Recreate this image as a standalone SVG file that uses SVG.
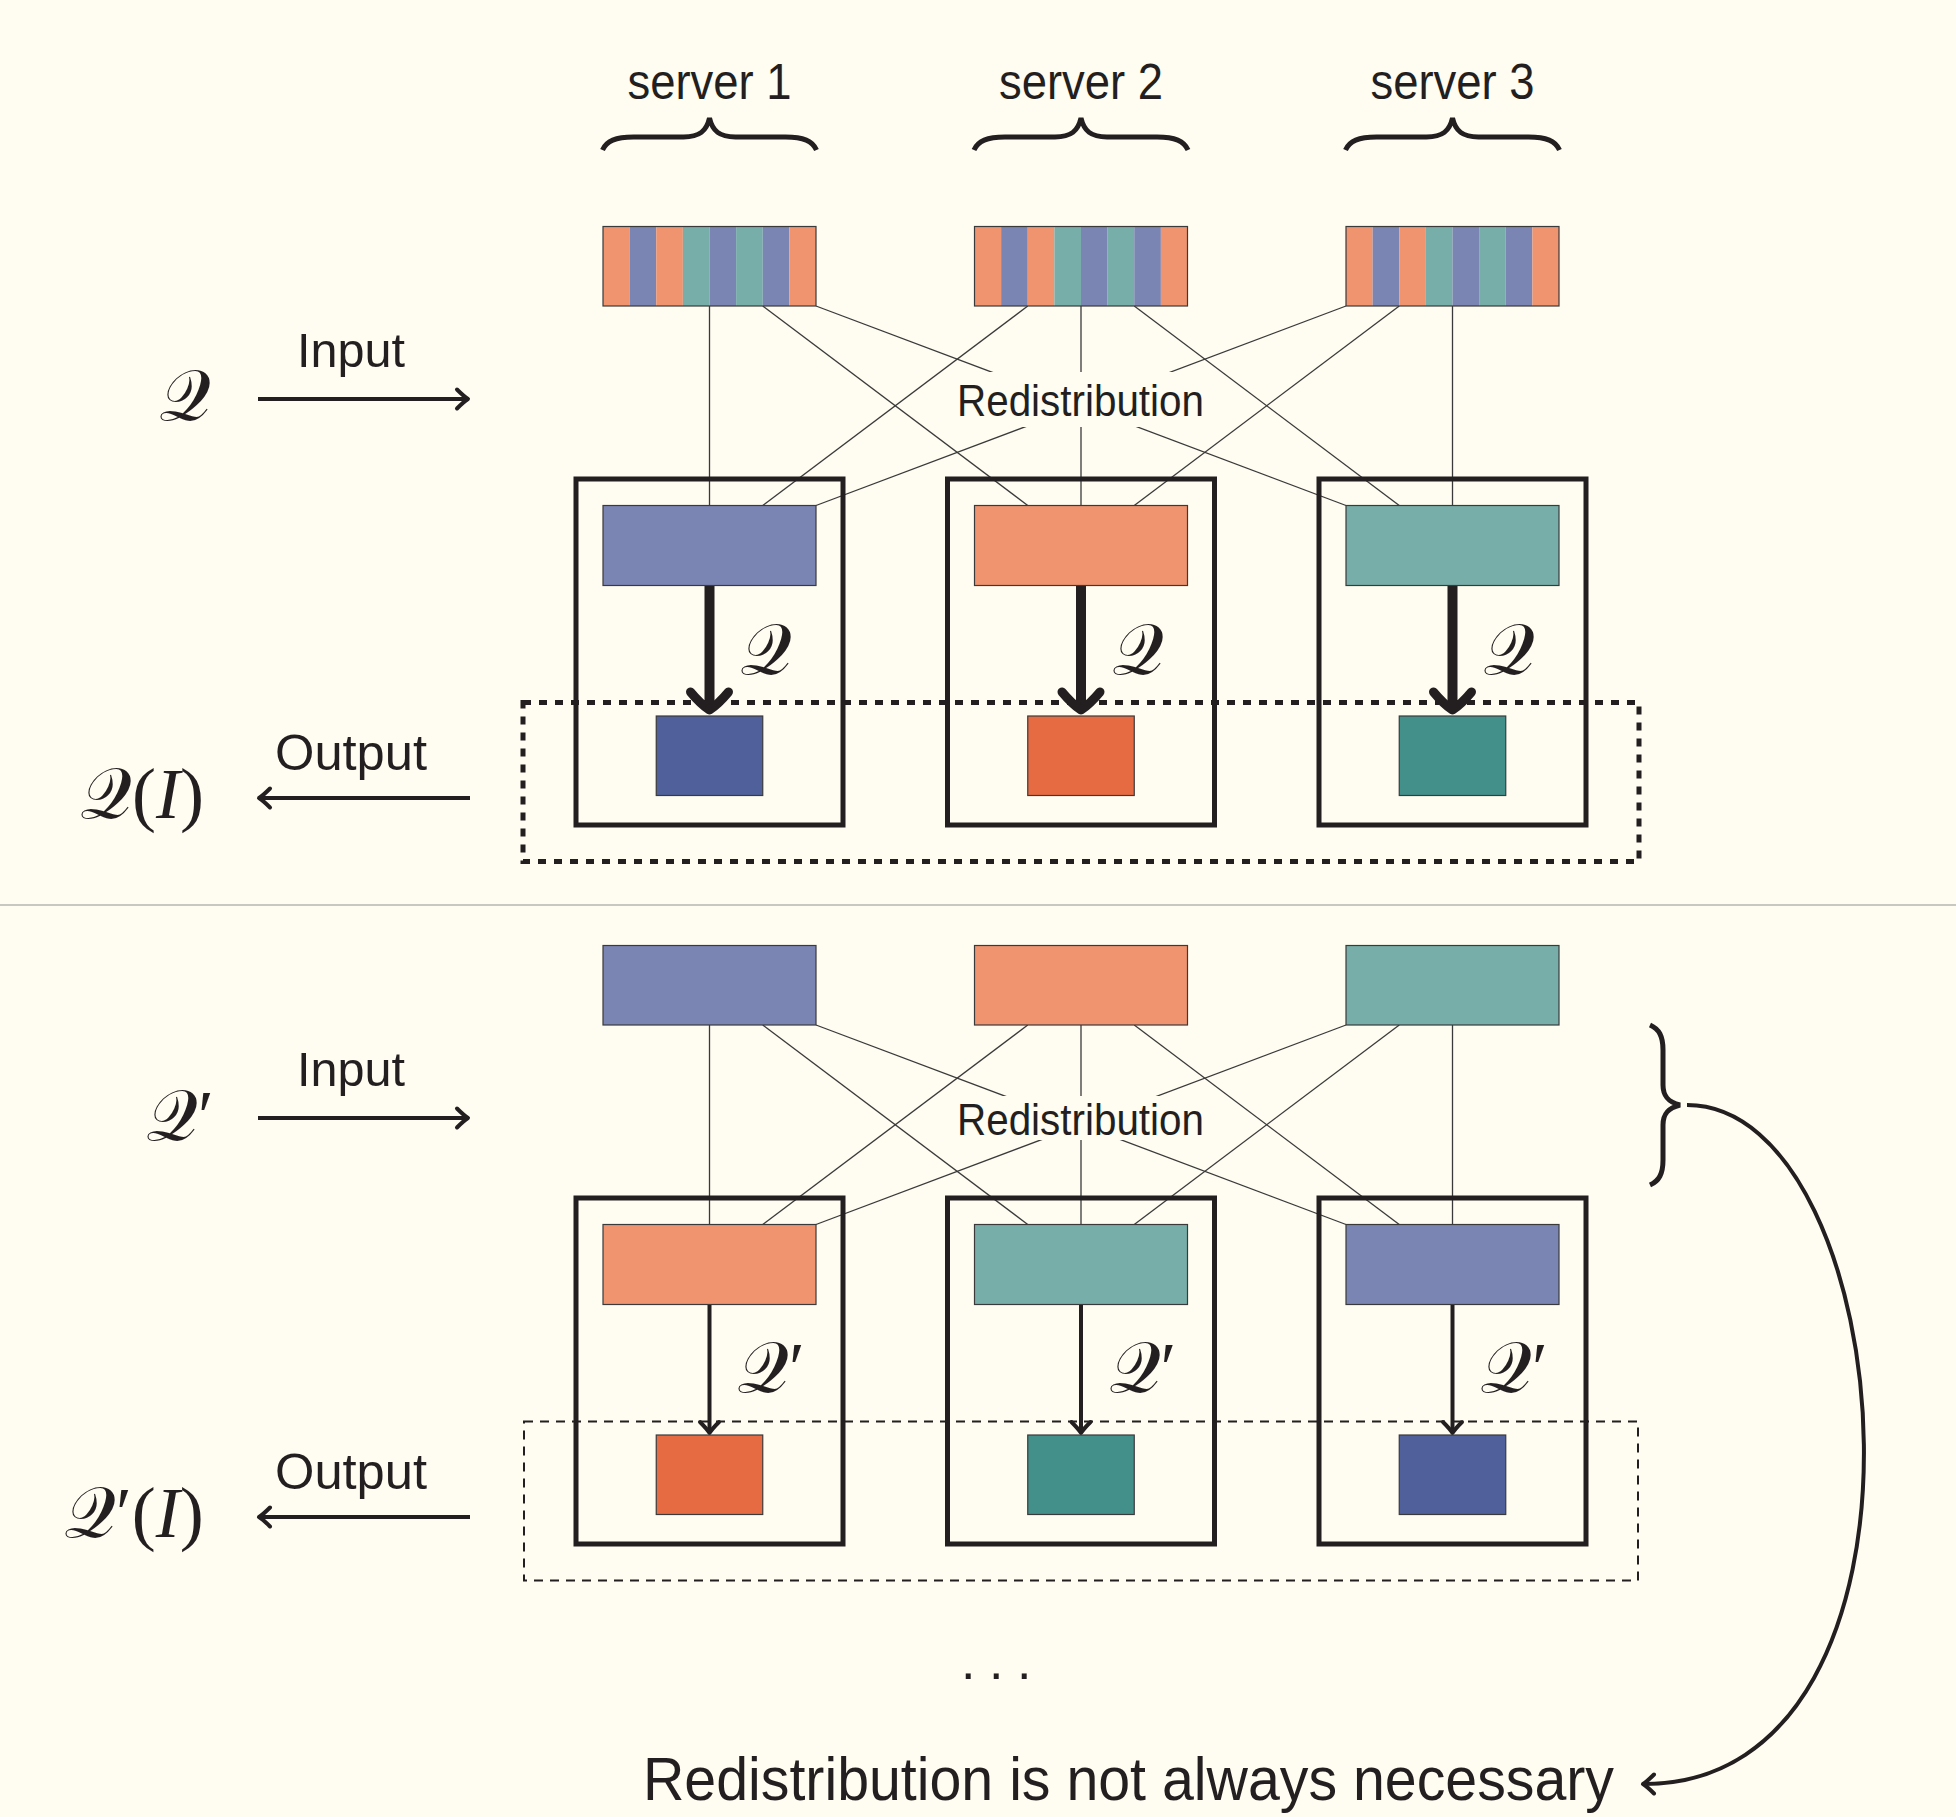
<svg xmlns="http://www.w3.org/2000/svg" width="1956" height="1817" viewBox="0 0 1956 1817">
  <style>
    .bg { fill: #FFFCF1; }
    .lbl { font-family: "Liberation Sans", Arial, sans-serif; fill: #231F20; }
    .math { font-family: "Liberation Serif", "DejaVu Serif", serif; fill: #231F20; }
    .cal { font-family: "DejaVu Serif", "DejaVu Sans", "Liberation Serif", serif; }
    .it { font-style: italic; }
    .cell { stroke: #3A3A3A; stroke-width: 1.2; }
    .lo { fill: #F09470; }
    .lb { fill: #7A85B4; }
    .lt { fill: #77AEAA; }
    .db { fill: #4F609B; }
    .do { fill: #E76B42; }
    .dt { fill: #43908B; }
    .server { fill: none; stroke: #231F20; stroke-width: 5; }
    .wire { stroke: #3A3A3A; stroke-width: 1.3; fill: none; }
    .brace { fill: none; stroke: #231F20; stroke-width: 5; stroke-linecap: butt; }
    .arrow { fill: none; stroke: #231F20; stroke-width: 4; }
    .thick { fill: none; stroke: #231F20; stroke-width: 10; }
    .gather-dotted { fill: none; stroke: #231F20; stroke-width: 5; stroke-dasharray: 8 8; }
    .gather-dashed { fill: none; stroke: #231F20; stroke-width: 2; stroke-dasharray: 9 7; }
  </style>
  <defs>
    <marker id="tip" markerUnits="userSpaceOnUse" orient="auto" overflow="visible" markerWidth="1" markerHeight="1" refX="0" refY="0">
      <path d="M-10,-9.5 Q-3,-2.5 1,0 Q-3,2.5 -10,9.5" fill="none" stroke="#231F20" stroke-width="4" stroke-linecap="round" stroke-linejoin="round"/>
    </marker>
    <marker id="tip-thick" markerUnits="userSpaceOnUse" orient="auto" overflow="visible" markerWidth="1" markerHeight="1" refX="0" refY="0">
      <path d="M-14,-19 Q-2,-9 4,0 Q-2,9 -14,19" fill="none" stroke="#231F20" stroke-width="9" stroke-linecap="round" stroke-linejoin="round"/>
    </marker>
    <!-- striped input partition of one server -->
    <g id="striped">
      <rect x="0" y="0" width="26.625" height="79.5" class="lo"/>
      <rect x="26.625" y="0" width="26.625" height="79.5" class="lb"/>
      <rect x="53.25" y="0" width="26.625" height="79.5" class="lo"/>
      <rect x="79.875" y="0" width="26.625" height="79.5" class="lt"/>
      <rect x="106.5" y="0" width="26.625" height="79.5" class="lb"/>
      <rect x="133.125" y="0" width="26.625" height="79.5" class="lt"/>
      <rect x="159.75" y="0" width="26.625" height="79.5" class="lb"/>
      <rect x="186.375" y="0" width="26.625" height="79.5" class="lo"/>
      <rect x="0" y="0" width="213" height="79.5" fill="none" class="cell"/>
    </g>
    <path id="hbrace" d="M-107,150 C-103,141 -94,137 -76,137 L-26,137 C-10,137 -3,131 0,118 C3,131 10,137 26,137 L76,137 C94,137 103,141 107,150"/>
  </defs>

  <rect class="bg" x="0" y="0" width="1956" height="1817"/>

  <!-- divider between the two rounds -->
  <line x1="0" y1="905" x2="1956" y2="905" stroke="#C8C8C0" stroke-width="1.8"/>

  <!-- ===== round 1 ===== -->
  <g id="server-labels">
    <text class="lbl" x="709.5" y="99" font-size="50" text-anchor="middle" textLength="164" lengthAdjust="spacingAndGlyphs">server 1</text>
    <text class="lbl" x="1081" y="99" font-size="50" text-anchor="middle" textLength="164" lengthAdjust="spacingAndGlyphs">server 2</text>
    <text class="lbl" x="1452.5" y="99" font-size="50" text-anchor="middle" textLength="164" lengthAdjust="spacingAndGlyphs">server 3</text>
    <use href="#hbrace" class="brace" transform="translate(709.5,0)"/>
    <use href="#hbrace" class="brace" transform="translate(1081,0)"/>
    <use href="#hbrace" class="brace" transform="translate(1452.5,0)"/>
  </g>

  <g id="connectors">
    <!-- round 1 redistribution wires -->
    <line class="wire" x1="709.5" y1="306" x2="709.5" y2="505.5"/>
    <line class="wire" x1="762.75" y1="306" x2="1027.75" y2="505.5"/>
    <line class="wire" x1="816" y1="306" x2="1346" y2="505.5"/>
    <line class="wire" x1="1027.75" y1="306" x2="762.75" y2="505.5"/>
    <line class="wire" x1="1081" y1="306" x2="1081" y2="505.5"/>
    <line class="wire" x1="1134.25" y1="306" x2="1399.25" y2="505.5"/>
    <line class="wire" x1="1346" y1="306" x2="816" y2="505.5"/>
    <line class="wire" x1="1399.25" y1="306" x2="1134.25" y2="505.5"/>
    <line class="wire" x1="1452.5" y1="306" x2="1452.5" y2="505.5"/>
    <!-- round 2 redistribution wires -->
    <line class="wire" x1="709.5" y1="1025" x2="709.5" y2="1224.5"/>
    <line class="wire" x1="762.75" y1="1025" x2="1027.75" y2="1224.5"/>
    <line class="wire" x1="816" y1="1025" x2="1346" y2="1224.5"/>
    <line class="wire" x1="1027.75" y1="1025" x2="762.75" y2="1224.5"/>
    <line class="wire" x1="1081" y1="1025" x2="1081" y2="1224.5"/>
    <line class="wire" x1="1134.25" y1="1025" x2="1399.25" y2="1224.5"/>
    <line class="wire" x1="1346" y1="1025" x2="816" y2="1224.5"/>
    <line class="wire" x1="1399.25" y1="1025" x2="1134.25" y2="1224.5"/>
    <line class="wire" x1="1452.5" y1="1025" x2="1452.5" y2="1224.5"/>

    <!-- local evaluation, round 1 -->
    <line class="thick" x1="709.5" y1="585.5" x2="709.5" y2="706" marker-end="url(#tip-thick)"/>
    <line class="thick" x1="1081" y1="585.5" x2="1081" y2="706" marker-end="url(#tip-thick)"/>
    <line class="thick" x1="1452.5" y1="585.5" x2="1452.5" y2="706" marker-end="url(#tip-thick)"/>
    <!-- local evaluation, round 2 -->
    <line class="arrow" x1="709.5" y1="1304.5" x2="709.5" y2="1432" marker-end="url(#tip)"/>
    <line class="arrow" x1="1081" y1="1304.5" x2="1081" y2="1432" marker-end="url(#tip)"/>
    <line class="arrow" x1="1452.5" y1="1304.5" x2="1452.5" y2="1432" marker-end="url(#tip)"/>

    <!-- input / output arrows -->
    <line class="arrow" x1="258" y1="399" x2="467" y2="399" marker-end="url(#tip)"/>
    <line class="arrow" x1="470" y1="798" x2="260" y2="798" marker-end="url(#tip)"/>
    <line class="arrow" x1="258" y1="1118" x2="467" y2="1118" marker-end="url(#tip)"/>
    <line class="arrow" x1="470" y1="1517" x2="260" y2="1517" marker-end="url(#tip)"/>

    <!-- brace to remark -->
    <path class="arrow" d="M1687,1105 C1900,1105 1960,1784 1644,1784" stroke-width="4.5" marker-end="url(#tip)"/>
  </g>

  <!-- redistribution labels, drawn over the wires -->
  <g id="redistribution-1">
    <rect class="bg" x="950" y="372" width="262" height="55"/>
    <text class="lbl" x="1080.5" y="416" font-size="44" text-anchor="middle" textLength="247" lengthAdjust="spacingAndGlyphs">Redistribution</text>
  </g>
  <g id="redistribution-2">
    <rect class="bg" x="950" y="1096" width="262" height="44"/>
    <text class="lbl" x="1080.5" y="1135" font-size="44" text-anchor="middle" textLength="247" lengthAdjust="spacingAndGlyphs">Redistribution</text>
  </g>

  <!-- input partitions, round 1 -->
  <g id="input-1-s1"><use href="#striped" x="603" y="226.5"/></g>
  <g id="input-1-s2"><use href="#striped" x="974.5" y="226.5"/></g>
  <g id="input-1-s3"><use href="#striped" x="1346" y="226.5"/></g>

  <!-- servers, round 1 -->
  <g id="server-1-s1">
    <rect class="server" x="576" y="479" width="267" height="346"/>
    <rect class="lb cell" x="603" y="505.5" width="213" height="80"/>
    <rect class="db cell" x="656.25" y="716" width="106.5" height="79.5"/>
    <text class="math" x="740" y="674" font-size="72"><tspan class="cal">𝒬</tspan></text>
  </g>
  <g id="server-1-s2">
    <rect class="server" x="947.5" y="479" width="267" height="346"/>
    <rect class="lo cell" x="974.5" y="505.5" width="213" height="80"/>
    <rect class="do cell" x="1027.75" y="716" width="106.5" height="79.5"/>
    <text class="math" x="1111.5" y="674" font-size="72"><tspan class="cal">𝒬</tspan></text>
  </g>
  <g id="server-1-s3">
    <rect class="server" x="1319" y="479" width="267" height="346"/>
    <rect class="lt cell" x="1346" y="505.5" width="213" height="80"/>
    <rect class="dt cell" x="1399.25" y="716" width="106.5" height="79.5"/>
    <text class="math" x="1483" y="674" font-size="72"><tspan class="cal">𝒬</tspan></text>
  </g>
  <rect id="gather-1" class="gather-dotted" x="523" y="702.5" width="1116" height="159"/>

  <g id="io-1">
    <text class="math" x="159" y="420" font-size="72"><tspan class="cal">𝒬</tspan></text>
    <text class="lbl" x="297" y="367" font-size="49" textLength="108" lengthAdjust="spacingAndGlyphs">Input</text>
    <text class="lbl" x="275" y="770" font-size="50" textLength="152" lengthAdjust="spacingAndGlyphs">Output</text>
    <text class="math" x="80" y="818" font-size="72"><tspan class="cal">𝒬</tspan>(<tspan class="it">I</tspan>)</text>
  </g>

  <!-- ===== round 2 ===== -->
  <g id="input-2-s1"><rect class="lb cell" x="603" y="945.5" width="213" height="79.5"/></g>
  <g id="input-2-s2"><rect class="lo cell" x="974.5" y="945.5" width="213" height="79.5"/></g>
  <g id="input-2-s3"><rect class="lt cell" x="1346" y="945.5" width="213" height="79.5"/></g>

  <g id="server-2-s1">
    <rect class="server" x="576" y="1198" width="267" height="346"/>
    <rect class="lo cell" x="603" y="1224.5" width="213" height="80"/>
    <rect class="do cell" x="656.25" y="1435" width="106.5" height="79.5"/>
    <text class="math" x="737" y="1392" font-size="72"><tspan class="cal">𝒬</tspan>′</text>
  </g>
  <g id="server-2-s2">
    <rect class="server" x="947.5" y="1198" width="267" height="346"/>
    <rect class="lt cell" x="974.5" y="1224.5" width="213" height="80"/>
    <rect class="dt cell" x="1027.75" y="1435" width="106.5" height="79.5"/>
    <text class="math" x="1108.5" y="1392" font-size="72"><tspan class="cal">𝒬</tspan>′</text>
  </g>
  <g id="server-2-s3">
    <rect class="server" x="1319" y="1198" width="267" height="346"/>
    <rect class="lb cell" x="1346" y="1224.5" width="213" height="80"/>
    <rect class="db cell" x="1399.25" y="1435" width="106.5" height="79.5"/>
    <text class="math" x="1480" y="1392" font-size="72"><tspan class="cal">𝒬</tspan>′</text>
  </g>
  <rect id="gather-2" class="gather-dashed" x="524" y="1421.5" width="1114" height="159"/>

  <g id="io-2">
    <text class="math" x="146" y="1140" font-size="72"><tspan class="cal">𝒬</tspan>′</text>
    <text class="lbl" x="297" y="1086" font-size="49" textLength="108" lengthAdjust="spacingAndGlyphs">Input</text>
    <text class="lbl" x="275" y="1489" font-size="50" textLength="152" lengthAdjust="spacingAndGlyphs">Output</text>
    <text class="math" x="64" y="1537" font-size="72"><tspan class="cal">𝒬</tspan>′(<tspan class="it">I</tspan>)</text>
  </g>

  <!-- later rounds and remark -->
  <g id="remark">
    <path class="brace" d="M1650,1025 C1659,1029 1663,1036 1663,1050 L1663,1085 C1663,1096 1668,1102 1680,1105 C1668,1108 1663,1114 1663,1125 L1663,1160 C1663,1174 1659,1181 1650,1185"/>
    <text class="lbl" x="961 989 1017" y="1679" font-size="52">...</text>
    <text class="lbl" x="643" y="1800" font-size="61" textLength="971" lengthAdjust="spacingAndGlyphs">Redistribution is not always necessary</text>
  </g>
</svg>
